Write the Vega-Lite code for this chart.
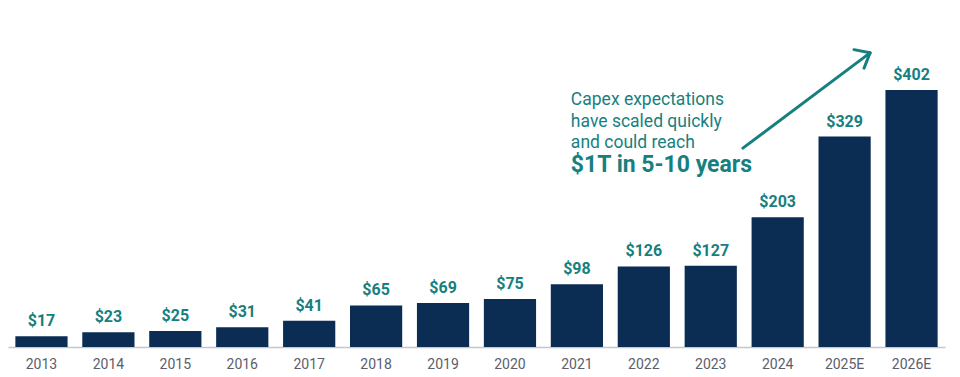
{
  "$schema": "https://vega.github.io/schema/vega-lite/v6.json",
  "autosize": "none",
  "width": 937,
  "height": 337,
  "padding": {"left": 8, "top": 10, "right": 15, "bottom": 30},
  "background": "white",
  "config": {"view": {"stroke": null}, "font": "Roboto"},
  "datasets": {
    "capex": [
      {"year": "2013", "value": 17},
      {"year": "2014", "value": 23},
      {"year": "2015", "value": 25},
      {"year": "2016", "value": 31},
      {"year": "2017", "value": 41},
      {"year": "2018", "value": 65},
      {"year": "2019", "value": 69},
      {"year": "2020", "value": 75},
      {"year": "2021", "value": 98},
      {"year": "2022", "value": 126},
      {"year": "2023", "value": 127},
      {"year": "2024", "value": 203},
      {"year": "2025E", "value": 329},
      {"year": "2026E", "value": 402}
    ],
    "arrow": [
      {"x": 10.98, "y": 311, "x2": 12.88, "y2": 460},
      {"x": 12.64, "y": 465, "x2": 12.88, "y2": 460},
      {"x": 12.79, "y": 436, "x2": 12.88, "y2": 460}
    ],
    "note": [
      {"x": 8.41, "y": 386, "text": "Capex expectations", "bold": false},
      {"x": 8.41, "y": 352, "text": "have scaled quickly", "bold": false},
      {"x": 8.41, "y": 319, "text": "and could reach", "bold": false},
      {"x": 8.41, "y": 284, "text": "$1T in 5-10 years", "bold": true}
    ]
  },
  "layer": [
    {
      "data": {"name": "capex"},
      "mark": {"type": "bar", "color": "#0b2d53"},
      "encoding": {
        "x": {
          "field": "year", "type": "nominal", "sort": null,
          "scale": {"paddingInner": 0.22, "paddingOuter": 0.11},
          "axis": {"title": null, "ticks": false, "domainColor": "#c6c6ce", "domainWidth": 1.5, "labelAngle": 0, "labelFontSize": 14, "labelColor": "#5b5e6c", "labelPadding": 10, "labelFont": "Roboto"}
        },
        "y": {"field": "value", "type": "quantitative", "scale": {"domain": [0, 527], "nice": false, "zero": true}, "axis": null}
      }
    },
    {
      "data": {"name": "capex"},
      "mark": {"type": "text", "color": "#17807f", "fontWeight": "bold", "fontSize": 16, "baseline": "bottom", "dy": -7},
      "encoding": {
        "x": {"field": "year", "type": "nominal", "sort": null, "axis": null},
        "y": {"field": "value", "type": "quantitative"},
        "text": {"field": "value", "type": "quantitative", "format": "$,.0f"}
      }
    },
    {
      "data": {"name": "arrow"},
      "mark": {"type": "rule", "color": "#17807f", "strokeWidth": 3, "strokeCap": "round"},
      "encoding": {
        "x": {"field": "x", "type": "quantitative", "scale": {"domain": [0, 14], "nice": false}, "axis": null},
        "x2": {"field": "x2"},
        "y": {"field": "y", "type": "quantitative"},
        "y2": {"field": "y2"}
      }
    },
    {
      "data": {"name": "note"},
      "transform": [{"filter": "!datum.bold"}],
      "mark": {"type": "text", "align": "left", "baseline": "middle", "color": "#17807f", "fontSize": 17.5},
      "encoding": {
        "x": {"field": "x", "type": "quantitative", "scale": {"domain": [0, 14], "nice": false}, "axis": null},
        "y": {"field": "y", "type": "quantitative"},
        "text": {"field": "text"}
      }
    },
    {
      "data": {"name": "note"},
      "transform": [{"filter": "datum.bold"}],
      "mark": {"type": "text", "align": "left", "baseline": "middle", "color": "#17807f", "fontSize": 23, "fontWeight": "bold"},
      "encoding": {
        "x": {"field": "x", "type": "quantitative", "scale": {"domain": [0, 14], "nice": false}, "axis": null},
        "y": {"field": "y", "type": "quantitative"},
        "text": {"field": "text"}
      }
    }
  ],
  "resolve": {"scale": {"x": "independent"}}
}
